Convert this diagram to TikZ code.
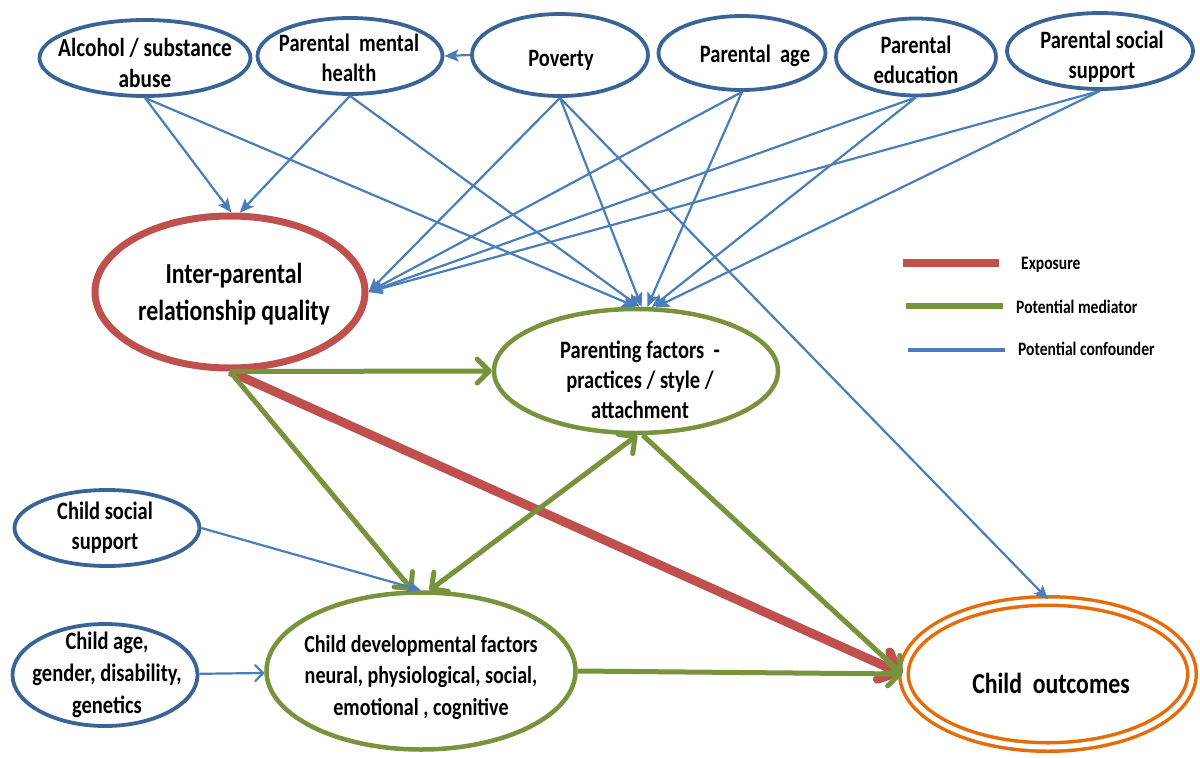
\documentclass[tikz,border=0pt]{standalone}
\usepackage{fontspec}
\setmainfont{Carlito}[FakeStretch=0.82]
\usetikzlibrary{shapes.geometric,arrows.meta}
\definecolor{nodeblue}{HTML}{3A6397}
\definecolor{edgeblue}{HTML}{4A7EBB}
\definecolor{expred}{HTML}{C0504D}
\definecolor{medgreen}{HTML}{77933C}
\definecolor{outorange}{HTML}{E46C0A}
\newcommand{\myfs}[2]{\fontsize{#1}{#2}\selectfont\bfseries}
\begin{document}
\begin{tikzpicture}[x=1pt,y=-1pt,
  confnode/.style={ellipse, draw=nodeblue, line width=3.8pt, fill=white, inner sep=0pt},
  mednode/.style={ellipse, draw=medgreen, line width=4.5pt, fill=white, inner sep=0pt},
  expnode/.style={ellipse, draw=expred, line width=7pt, fill=white, inner sep=0pt},
  outnode/.style={ellipse, draw=outorange, line width=3.5pt, double=white, double distance=5pt, fill=white, inner sep=0pt},
  txt/.style={align=center, inner sep=0pt, font=\myfs{25}{30}},
  conftip/.tip={Stealth[length=14pt,width=12pt,inset=3pt]},
  medtip/.tip={Straight Barb[round,length=12pt,width=24pt]},
  exptip/.tip={Straight Barb[round,length=16pt,width=30pt]},
  confedge/.style={draw=edgeblue, line width=2.2pt, -conftip},
  mededge/.style={draw=medgreen, line width=5pt, -medtip},
  expedge/.style={draw=expred, line width=9pt, -exptip},
  legline/.style={line width=#1}
]
\fill[white] (0,0) rectangle (1200,758);
\useasboundingbox (0,0) rectangle (1200,758);

% confounder nodes (top)
\node[confnode, minimum width=211pt, minimum height=76pt] (alc) at (145,58) {};
\node[txt, font=\myfs{26}{31}] (alc-t) at (145,63) {Alcohol / substance\\abuse};
\node[confnode, minimum width=185pt, minimum height=76pt] (pmh) at (350,56) {};
\node[txt] (pmh-t) at (349,58) {Parental\ \ mental\\health};
\node[confnode, minimum width=176pt, minimum height=82pt] (pov) at (560,55) {};
\node[txt] (pov-t) at (561,60) {Poverty};
\node[confnode, minimum width=167pt, minimum height=74pt] (age) at (742,53) {};
\node[txt] (age-t) at (755,56) {Parental\ \ age};
\node[confnode, minimum width=160pt, minimum height=77pt] (edu) at (916,57) {};
\node[txt] (edu-t) at (916,60) {Parental\\education};
\node[confnode, minimum width=186pt, minimum height=76pt] (pss) at (1100,51) {};
\node[txt] (pss-t) at (1102,57) {Parental social\\support};

% child confounders
\node[confnode, minimum width=185pt, minimum height=76pt] (csp) at (107,528) {};
\node[txt] (csp-t) at (105,528) {Child social\\support};
\node[confnode, minimum width=185pt, minimum height=102pt] (cag) at (105,675) {};
\node[txt, font=\myfs{25}{32}] (cag-t) at (107,675) {Child age,\\gender, disability,\\genetics};

% exposure, mediators, outcome
\node[expnode, minimum width=270pt, minimum height=152pt] (ipr) at (230,292) {};
\node[txt, font=\myfs{29}{37}] (ipr-t) at (234,294) {Inter-parental\\relationship quality};
\node[mednode, minimum width=284pt, minimum height=124pt] (par) at (636,371) {};
\node[txt] (par-t) at (640,380) {Parenting factors\ \ -\\practices / style /\\attachment};
\node[mednode, minimum width=309pt, minimum height=157pt] (cdf) at (421,671) {};
\node[txt, font=\myfs{24.5}{31.5}] (cdf-t) at (421,677) {Child developmental factors\\neural, physiological, social,\\emotional , cognitive};
\node[outnode, minimum width=288pt, minimum height=146pt] (out) at (1048,674) {};
\node[txt, font=\myfs{29}{35}] (out-t) at (1051,683) {Child\ \ outcomes};

% exposure edge
\draw[expedge] (ipr.south) -- (out.west);

% mediator edges
\draw[mededge] (ipr.south) -- (par.west);
\draw[mededge] (ipr.south) -- (cdf.96);
\draw[draw=medgreen, line width=5pt, medtip-medtip] (cdf.84) -- (par.-89);
\draw[mededge] (par.-84) -- (out.west);
\draw[mededge] (cdf.east) -- (out.west);

% confounder edges
\draw[confedge] (alc.south) -- (ipr.89);
\draw[confedge] (alc.south) -- (par.90);
\draw[confedge] (pmh.south) -- (ipr.83);
\draw[confedge] (pmh.south) -- (par.87);
\draw[confedge] (pov.west) -- (pmh.east);
\draw[confedge] (pov.south) -- (ipr.east);
\draw[confedge] (pov.south) -- (par.85);
\draw[confedge] (pov.south) -- (out.north);
\draw[confedge] (age.south) -- (ipr.east);
\draw[confedge] (age.south) -- (par.80);
\draw[confedge] (edu.south) -- (ipr.east);
\draw[confedge] (edu.south) -- (par.76);
\draw[confedge] (pss.south) -- (ipr.east);
\draw[confedge] (pss.south) -- (par.73);
\draw[confedge] (csp.east) -- (cdf.north);
\draw[draw=edgeblue, line width=2.2pt, -{Straight Barb[round,length=8pt,width=16pt]}] (cag) -- (cdf);

% legend
\coordinate (lgRa) at (903,263);
\coordinate (lgRb) at (999,263);
\coordinate (lgGa) at (906,306);
\coordinate (lgGb) at (1003,306);
\coordinate (lgBa) at (908,350);
\coordinate (lgBb) at (1005,350);
\draw[expred, legline=8pt] (lgRa) -- (lgRb);
\draw[medgreen, legline=6pt] (lgGa) -- (lgGb);
\draw[edgeblue, legline=3.5pt] (lgBa) -- (lgBb);
\node[txt, anchor=west, font=\myfs{19}{23}] (lg-exp) at (1021,265) {Exposure};
\node[txt, anchor=west, font=\myfs{19}{23}] (lg-med) at (1016,307) {Potential mediator};
\node[txt, anchor=west, font=\myfs{19}{23}] (lg-conf) at (1018,349) {Potential confounder};
\end{tikzpicture}
\end{document}
